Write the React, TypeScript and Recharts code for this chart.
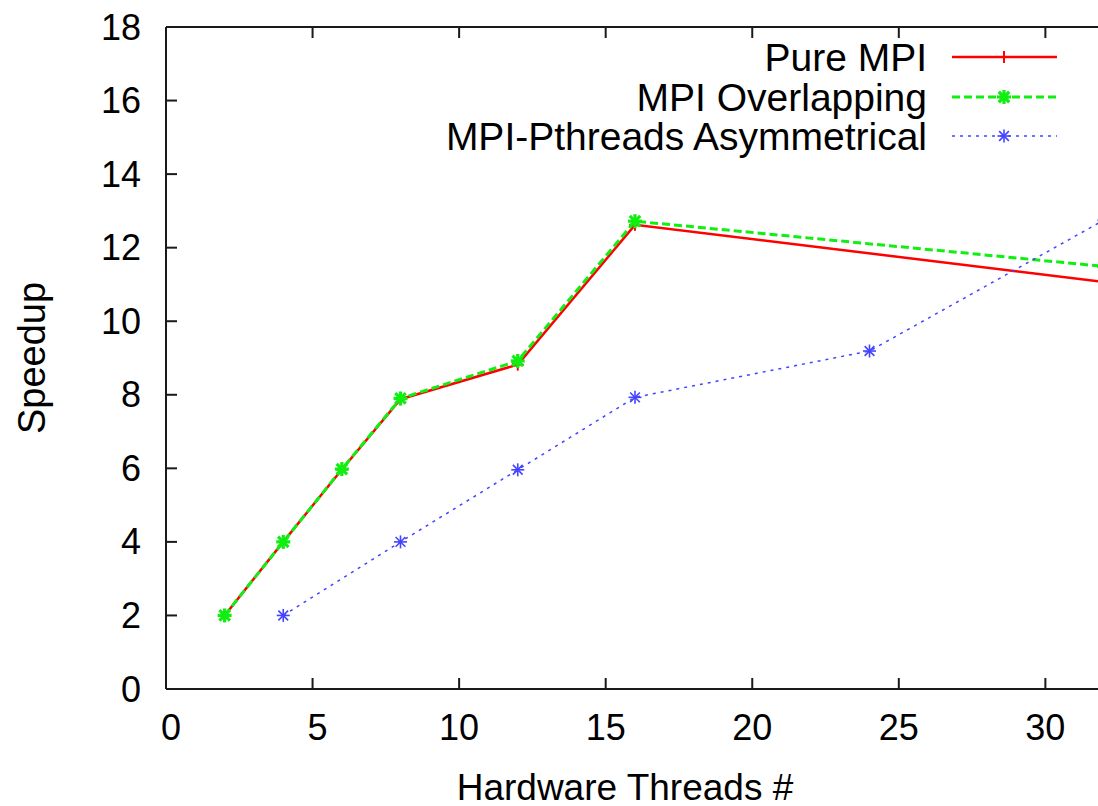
import React from 'react';
import { LineChart, Line, XAxis, YAxis, Legend, Label } from 'recharts';

// ---- data ----
const pureThreads = [2, 4, 6, 8, 12, 16, 32];
const pureSpeedup = [2, 4, 5.97, 7.88, 8.82, 12.62, 11.07];
const overlapThreads = [2, 4, 6, 8, 12, 16, 32];
const overlapSpeedup = [2, 4, 5.98, 7.9, 8.92, 12.72, 11.49];
const asymThreads = [4, 8, 12, 16, 24, 32];
const asymSpeedup = [2, 4, 5.96, 7.93, 9.19, 12.75];
const xTicks = [0, 5, 10, 15, 20, 25, 30];
const yTicks = [0, 2, 4, 6, 8, 10, 12, 14, 16, 18];
const seriesNames = ['Pure MPI', 'MPI Overlapping', 'MPI-Pthreads Asymmetrical'];
const xTitle = 'Hardware Threads #';
const yTitle = 'Speedup';

const toRows = (xs: number[], ys: number[]) => xs.map((x, i) => ({ x, y: ys[i] }));
const pureData = toRows(pureThreads, pureSpeedup);
const overlapData = toRows(overlapThreads, overlapSpeedup);
const asymData = toRows(asymThreads, asymSpeedup);

// ---- styles ----
const FONT = '"Liberation Sans", Arial, Helvetica, sans-serif';
const FS = 36;
const FS_LEGEND = 39;
const FS_XTITLE = 37;
const FS_YTITLE = 38;
const AXIS = '#1a1a1a';
const RED = '#ff0000';
const GREEN = '#11ee11';
const BLUE = '#4444ff';
const TICK = 11;

const plusMark = (cx: number, cy: number, color: string, s: number, w: number) => (
  <g>
    <line x1={cx - s} y1={cy} x2={cx + s} y2={cy} stroke={color} strokeWidth={w} />
    <line x1={cx} y1={cy - s} x2={cx} y2={cy + s} stroke={color} strokeWidth={w} />
  </g>
);
const starMark = (cx: number, cy: number, color: string, s: number, w: number) => {
  const d = s * 0.75;
  return (
    <g>
      <line x1={cx - s} y1={cy} x2={cx + s} y2={cy} stroke={color} strokeWidth={w} />
      <line x1={cx} y1={cy - s} x2={cx} y2={cy + s} stroke={color} strokeWidth={w} />
      <line x1={cx - d} y1={cy - d} x2={cx + d} y2={cy + d} stroke={color} strokeWidth={w} />
      <line x1={cx - d} y1={cy + d} x2={cx + d} y2={cy - d} stroke={color} strokeWidth={w} />
    </g>
  );
};

const redDot = (p: any) => <g key={`r-${p.index}`}>{plusMark(p.cx, p.cy, RED, 6, 2)}</g>;
const greenDot = (p: any) => <g key={`g-${p.index}`}>{starMark(p.cx, p.cy, GREEN, 7, 3.2)}</g>;
const blueDot = (p: any) => <g key={`b-${p.index}`}>{starMark(p.cx, p.cy, BLUE, 6.5, 1.6)}</g>;

const BottomTick = (p: any) => {
  const v = String(p.payload.value);
  return (
    <g>
      <line x1={p.x} y1={p.y} x2={p.x} y2={p.y - TICK} stroke={AXIS} strokeWidth={2} />
      <text x={p.x + (v.length === 1 ? 5 : 0)} y={p.y + 38} textAnchor="middle" dominantBaseline="central"
        fontFamily={FONT} fontSize={FS} fill="#000">{v}</text>
    </g>
  );
};
const TopTick = (p: any) => (
  <line x1={p.x} y1={p.y} x2={p.x} y2={p.y + TICK} stroke={AXIS} strokeWidth={2} />
);
const LeftTick = (p: any) => (
  <g>
    <line x1={p.x} y1={p.y} x2={p.x + TICK} y2={p.y} stroke={AXIS} strokeWidth={2} />
    <text x={p.x - 25} y={p.y} textAnchor="end" dominantBaseline="central"
      fontFamily={FONT} fontSize={FS} fill="#000">{p.payload.value}</text>
  </g>
);
const RightTick = (p: any) => (
  <line x1={p.x} y1={p.y} x2={p.x - TICK} y2={p.y} stroke={AXIS} strokeWidth={2} />
);

const legendRows = [
  { name: seriesNames[0], color: RED, width: 2.5, dash: undefined as string | undefined, mark: 'plus', y: 57 },
  { name: seriesNames[1], color: GREEN, width: 3, dash: '8 4', mark: 'starG', y: 97 },
  { name: seriesNames[2], color: BLUE, width: 1.5, dash: '3 5', mark: 'starB', y: 136 },
];

const LegendBox = () => (
  <svg width={1110} height={170} style={{ display: 'block' }}>
    {legendRows.map((r) => (
      <g key={r.name}>
        <text x={927} y={r.y} textAnchor="end" dominantBaseline="central" fontFamily={FONT} fontSize={FS_LEGEND} fill="#000">
          {r.name}
        </text>
        <line x1={952} y1={r.y} x2={1057} y2={r.y} stroke={r.color} strokeWidth={r.width} strokeDasharray={r.dash} />
        {r.mark === 'plus' && plusMark(1004, r.y, r.color, 6, 2)}
        {r.mark === 'starG' && starMark(1004, r.y, r.color, 7, 3.2)}
        {r.mark === 'starB' && starMark(1004, r.y, r.color, 6.5, 1.6)}
      </g>
    ))}
  </svg>
);

export default function App() {
  return (
    <div style={{ position: 'fixed', left: 0, top: 0, width: 1098, height: 806, overflow: 'hidden', background: '#fff' }}>
      <LineChart width={1110} height={806} margin={{ top: 26, right: 5, bottom: 0, left: 0 }}>
        <XAxis xAxisId="b" dataKey="x" type="number" domain={[0, 32]} ticks={xTicks} interval={0}
          orientation="bottom" height={117} tickSize={0} tickMargin={0} tickLine={false}
          axisLine={{ stroke: AXIS, strokeWidth: 2 }} tick={<BottomTick />} allowDataOverflow>
          <Label content={(p: any) => {
            const vb = p.viewBox;
            return (
              <text x={vb.x + vb.width / 2 - 10} y={vb.y + 98} textAnchor="middle" dominantBaseline="central"
                fontFamily={FONT} fontSize={FS_XTITLE} fill="#000">{xTitle}</text>
            );
          }} />
        </XAxis>
        <XAxis xAxisId="t" dataKey="x" type="number" domain={[0, 32]} ticks={xTicks} interval={0}
          orientation="top" height={1} tickSize={0} tickMargin={0} tickLine={false}
          axisLine={{ stroke: AXIS, strokeWidth: 2 }} tick={<TopTick />} allowDataOverflow />
        <YAxis yAxisId="l" type="number" domain={[0, 18]} ticks={yTicks} interval={0} width={166}
          orientation="left" tickSize={0} tickMargin={0} tickLine={false}
          axisLine={{ stroke: AXIS, strokeWidth: 2 }} tick={<LeftTick />}>
          <Label content={(p: any) => {
            const vb = p.viewBox;
            const cx = vb.x + 32;
            const cy = vb.y + vb.height / 2;
            return (
              <text x={cx} y={cy} transform={`rotate(-90, ${cx}, ${cy})`} textAnchor="middle" dominantBaseline="central"
                fontFamily={FONT} fontSize={FS_YTITLE} fill="#000">{yTitle}</text>
            );
          }} />
        </YAxis>
        <YAxis yAxisId="r" type="number" domain={[0, 18]} ticks={yTicks} interval={0} width={1}
          orientation="right" tickSize={0} tickMargin={0} tickLine={false}
          axisLine={{ stroke: AXIS, strokeWidth: 2 }} tick={<RightTick />} />
        <Legend layout="horizontal" verticalAlign="middle" align="center"
          wrapperStyle={{ position: 'absolute', left: 0, top: 0, width: 1110, height: 170, margin: 0, padding: 0 }}
          content={() => <LegendBox />} />
        <Line xAxisId="b" yAxisId="l" data={pureData} dataKey="y" name={seriesNames[0]} type="linear"
          stroke={RED} strokeWidth={2.5} dot={redDot} activeDot={false} isAnimationActive={false} />
        <Line xAxisId="b" yAxisId="l" data={overlapData} dataKey="y" name={seriesNames[1]} type="linear"
          stroke={GREEN} strokeWidth={3} strokeDasharray="8 4" dot={greenDot} activeDot={false} isAnimationActive={false} />
        <Line xAxisId="b" yAxisId="l" data={asymData} dataKey="y" name={seriesNames[2]} type="linear"
          stroke={BLUE} strokeWidth={1.5} strokeDasharray="3 5" dot={blueDot} activeDot={false} isAnimationActive={false} />
      </LineChart>
    </div>
  );
}
